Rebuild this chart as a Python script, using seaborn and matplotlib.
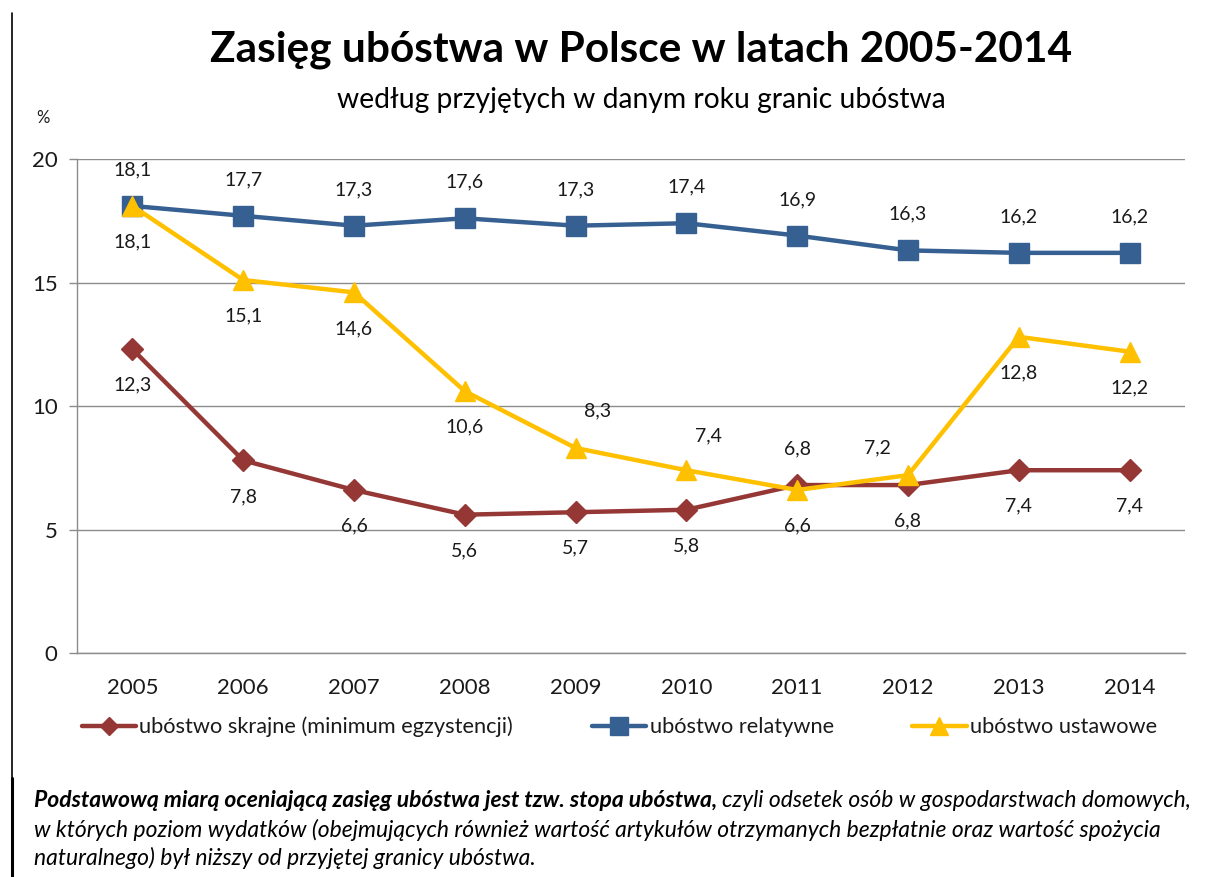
import numpy as np
import pandas as pd
import matplotlib
matplotlib.use("Agg")
import matplotlib.pyplot as plt
import seaborn as sns
from matplotlib.lines import Line2D

# dane z wykresu (GUS)
years = ["2005", "2006", "2007", "2008", "2009", "2010", "2011", "2012", "2013", "2014"]
skrajne = [12.3, 7.8, 6.6, 5.6, 5.7, 5.8, 6.8, 6.8, 7.4, 7.4]
relatywne = [18.1, 17.7, 17.3, 17.6, 17.3, 17.4, 16.9, 16.3, 16.2, 16.2]
ustawowe = [18.1, 15.1, 14.6, 10.6, 8.3, 7.4, 6.6, 7.2, 12.8, 12.2]
series_names = ["ubóstwo skrajne (minimum egzystencji)", "ubóstwo relatywne", "ubóstwo ustawowe"]

sns.set_theme(style="white")
plt.rcParams["font.family"] = ["Lato", "DejaVu Sans"]

RED = "#953735"
BLUE = "#376092"
YELLOW = "#FFC000"
GRID = "#8c8c8c"
TXT = "#1a1a1a"

fig = plt.figure(figsize=(12.05, 8.77), dpi=100)
ax = fig.add_axes([0.0639, 0.2554, 0.9195, 0.5633])

x = np.arange(len(years))
df = pd.DataFrame({"x": x, "skrajne": skrajne, "relatywne": relatywne, "ustawowe": ustawowe})

styles = [("skrajne", RED, "D", 11), ("relatywne", BLUE, "s", 14.5), ("ustawowe", YELLOW, "^", 15)]
handles = []
for (col, color, mk, ms), name in zip(styles, series_names):
    sns.lineplot(data=df, x="x", y=col, ax=ax, color=color, linewidth=3.2,
                 marker=mk, markersize=ms, markeredgecolor=color, markeredgewidth=1,
                 legend=False, zorder=3)
    handles.append(Line2D([], [], color=color, linewidth=3.2, marker=mk,
                          markersize=ms * 0.85, markeredgecolor=color, label=name))

# etykiety danych
def fmt(v):
    return f"{v:.1f}".replace(".", ",")

lab_kw = dict(fontsize=14, color=TXT, ha="center", va="center", zorder=5)
for i, v in enumerate(relatywne):
    ax.annotate(fmt(v), (i, v), xytext=(0, 26), textcoords="offset points", **lab_kw)
for i, v in enumerate(skrajne):
    dy = 26 if i == 6 else -26
    ax.annotate(fmt(v), (i, v), xytext=(0, dy), textcoords="offset points", **lab_kw)
ust_off = {4: (16, 27), 5: (16, 25), 7: (-22, 20)}
for i, v in enumerate(ustawowe):
    dx, dy = ust_off.get(i, (0, -26))
    ax.annotate(fmt(v), (i, v), xytext=(dx, dy), textcoords="offset points", **lab_kw)

ax.set_xlim(-0.5, 9.5)
ax.set_ylim(0, 20)
ax.set_yticks([0, 5, 10, 15, 20])
ax.set_xticks(x)
ax.set_xticklabels(years)
ax.set_xticks(np.arange(-0.5, 10, 1), minor=True)
ax.tick_params(axis="x", which="major", length=0, labelsize=16, pad=18, labelcolor=TXT)
ax.tick_params(axis="x", which="minor", length=7, color=GRID, width=1, direction="out")
ax.tick_params(axis="y", length=6, color=GRID, width=1, direction="out", labelsize=16,
               pad=8, labelcolor=TXT, left=True)
ax.set_xlabel("")
ax.set_ylabel("")
ax.yaxis.grid(True, color=GRID, linewidth=1)
ax.set_axisbelow(True)
for s in ["top", "right"]:
    ax.spines[s].set_visible(False)
for s in ["left", "bottom"]:
    ax.spines[s].set_color(GRID)
    ax.spines[s].set_linewidth(1)

fig.legend(handles=handles, loc="center", bbox_to_anchor=(0.514, 0.171), ncol=3,
           frameon=False, fontsize=15.7, handlelength=2.5, handletextpad=0.15,
           columnspacing=3.6, labelcolor=TXT)

fig.text(0.532, 0.943, "Zasięg ubóstwa w Polsce w latach 2005-2014", ha="center", va="center",
         fontsize=30.5, fontweight="bold", color="black")
fig.text(0.532, 0.886, "według przyjętych w danym roku granic ubóstwa", ha="center", va="center",
         fontsize=20.3, color="black")
fig.text(0.036, 0.866, "%", ha="center", va="center", fontsize=12, color=TXT)

# przypis
x0 = 0.028
fs = 16.5
t1 = fig.text(x0, 0.087, "Podstawową miarą oceniającą zasięg ubóstwa jest tzw. stopa ubóstwa,",
              fontsize=fs, fontstyle="italic", fontweight="bold", va="center", color="black")
fig.canvas.draw()
bb = t1.get_window_extent(renderer=fig.canvas.get_renderer())
fig.text(bb.x1 / fig.bbox.width + 0.004, 0.087,
         "czyli odsetek osób w gospodarstwach domowych,",
         fontsize=fs, fontstyle="italic", va="center", color="black")
fig.text(x0, 0.054, "w których poziom wydatków (obejmujących również wartość artykułów otrzymanych "
         "bezpłatnie oraz wartość spożycia", fontsize=fs, fontstyle="italic", va="center", color="black")
fig.text(x0, 0.022, "naturalnego) był niższy od przyjętej granicy ubóstwa.",
         fontsize=fs, fontstyle="italic", va="center", color="black")

# ramka po lewej
fig.add_artist(Line2D([0.010, 0.010], [0.985, 0.113], transform=fig.transFigure,
                      color="black", linewidth=1.2))
fig.add_artist(Line2D([0.010, 0.010], [0.113, 0.0], transform=fig.transFigure,
                      color="black", linewidth=2.2))

fig.savefig("out.png", dpi=100)
